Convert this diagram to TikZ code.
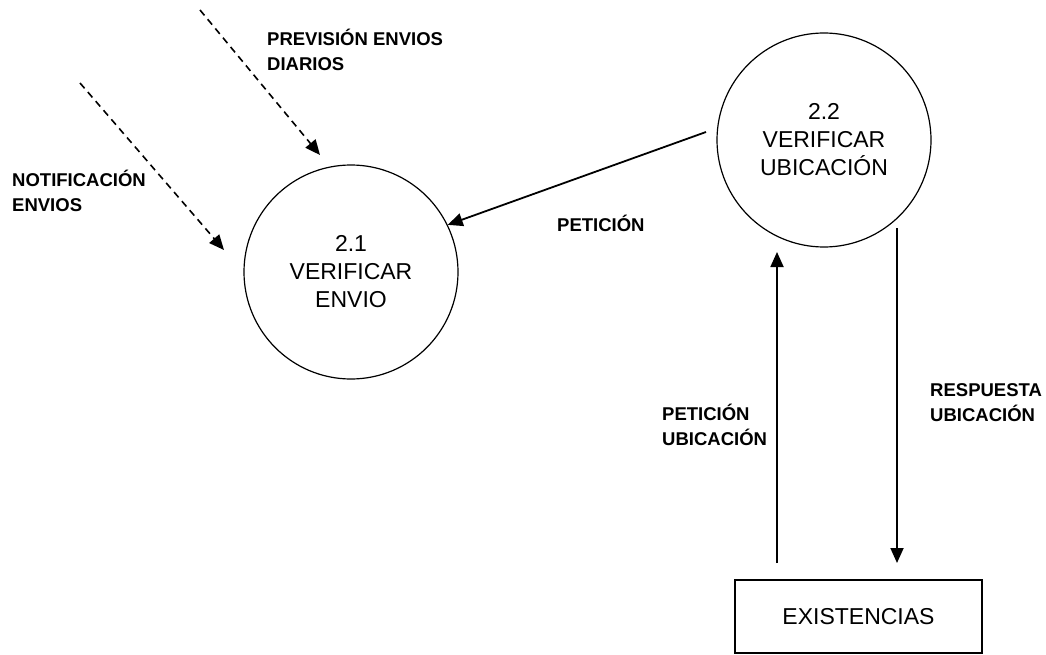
\documentclass[tikz,border=0pt]{standalone}
\usepackage{fontspec}
\setmainfont{Liberation Sans}
\usetikzlibrary{arrows.meta}
\begin{document}
\begin{tikzpicture}[x=1pt,y=-1pt,
  proc/.style={circle,draw,line width=1.2pt,minimum size=214pt,inner sep=0pt,align=center,
    font=\fontsize{23}{28}\selectfont},
  store/.style={rectangle,draw,line width=1.3pt,minimum width=247pt,minimum height=73pt,
    inner sep=0pt,font=\fontsize{23}{28}\selectfont},
  lbl/.style={anchor=west,inner sep=0pt,align=left,font=\fontsize{18.5}{25}\selectfont\bfseries},
  flow/.style={line width=1.8pt,-{Triangle[length=15pt,width=13pt]}},
  dflow/.style={flow,line width=1.6pt,dash pattern=on 7pt off 5pt}]
\path[use as bounding box] (0,0) rectangle (1046,655);

% processes and data store
\node[proc] (p1) at (351,272) {2.1\\VERIFICAR\\ENVIO};
\node[proc] (p2) at (824,140) {2.2\\VERIFICAR\\UBICACIÓN};
\node[store] (ex) at (858.5,616.5) {EXISTENCIAS};

% free ends of the flows
\coordinate (prevSrc) at (200,10);
\coordinate (prevTip) at (320,155);
\coordinate (notiSrc) at (80,83);
\coordinate (notiTip) at (224,250);
\coordinate (petSrc)  at (706,132);
\coordinate (puSrc)   at (777,563);
\coordinate (puTip)   at (777,252);
\coordinate (ruSrc)   at (897,228);
\coordinate (ruTip)   at (897,563);

% flows
\draw[dflow] (prevSrc) -- (prevTip);
\draw[dflow] (notiSrc) -- (notiTip);
\draw[flow] (petSrc) -- (p1.26);
\draw[flow] (puSrc) -- (puTip);
\draw[flow] (ruSrc) -- (ruTip);

% flow labels
\node[lbl] (lPrev) at (267,49.5) {PREVISIÓN ENVIOS\\DIARIOS};
\node[lbl] (lNoti) at (12,190.5) {NOTIFICACIÓN\\ENVIOS};
\node[lbl] (lPet)  at (557,223) {PETICIÓN};
\node[lbl] (lPu)   at (662,424.5) {PETICIÓN\\UBICACIÓN};
\node[lbl] (lRu)   at (930,403) {RESPUESTA\\UBICACIÓN};
\end{tikzpicture}
\end{document}
